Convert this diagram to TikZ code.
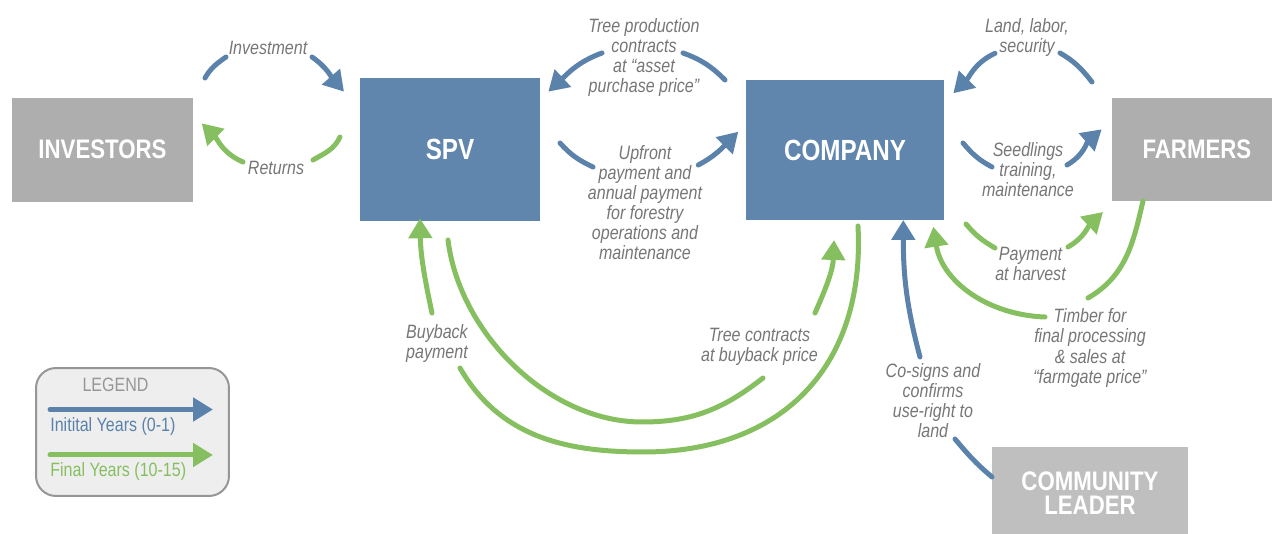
\documentclass[tikz,border=0pt]{standalone}
\usepackage{fontspec}
\setmainfont{Liberation Sans}[FakeStretch=0.83]
\usetikzlibrary{arrows.meta,positioning}

\definecolor{boxblue}{RGB}{96,134,174}
\definecolor{flowblue}{RGB}{91,130,170}
\definecolor{flowgreen}{RGB}{134,191,95}
\definecolor{boxgray}{RGB}{174,174,174}
\definecolor{boxlightgray}{RGB}{191,191,191}
\definecolor{labelgray}{RGB}{118,118,118}
\definecolor{legendfill}{RGB}{238,238,238}
\definecolor{legendline}{RGB}{150,150,150}

\newcommand{\bluefont}{\fontsize{16.6pt}{18pt}\selectfont\bfseries}
\newcommand{\grayfont}{\fontsize{15.25pt}{13.6pt}\selectfont\bfseries}
\newcommand{\lblfont}{\fontsize{11pt}{11.4pt}\selectfont\itshape}
\newcommand{\legfont}{\fontsize{11pt}{11.4pt}\selectfont}

\tikzset{
  bluebox/.style={rectangle,fill=boxblue,text=white,font=\bluefont,inner sep=0pt},
  graybox/.style={rectangle,fill=boxgray,text=white,font=\grayfont,align=center,inner sep=0pt},
  flowlabel/.style={font=\lblfont,text=labelgray,align=center,inner sep=0pt},
  flowline/.style={line width=0.1cm,line cap=round},
  blueflow/.style={flowline,draw=flowblue},
  greenflow/.style={flowline,draw=flowgreen},
  withhead/.style={-{Triangle[length=0.4cm,width=0.46cm]}},
}

\begin{document}
\begin{tikzpicture}[x=0.02cm,y=0.02cm]
  \useasboundingbox (0,0) rectangle (1272,534);

  % parties
  \node[graybox,minimum width=3.632cm,minimum height=2.08cm] (investors) at (102.5,384.3) {INVESTORS};
  \node[bluebox,minimum width=3.6cm,minimum height=2.848cm] (spv) at (450,384.5) {SPV};
  \node[bluebox,minimum width=3.972cm,minimum height=2.8cm] (company) at (845,384) {COMPANY};
  \node[graybox,minimum width=3.406cm,minimum height=2.066cm] (farmers) at (1196.9,384.65) {FARMERS};
  \node[graybox,fill=boxlightgray,minimum width=3.932cm,minimum height=1.852cm] (leader) at (1090,41) {COMMUNITY\\LEADER};

  % flow labels
  \node[flowlabel] (lblinvest) at (268,486) {Investment};
  \node[flowlabel] (lblreturn) at (276,366) {Returns};
  \node[flowlabel] (lbltree) at (644,476.5) {Tree production\\contracts\\at “asset\\purchase price”};
  \node[flowlabel] (lblupfront) at (645,331) {Upfront\\payment and\\annual payment\\for forestry\\operations and\\maintenance};
  \node[flowlabel] (lblland) at (1027,496.5) {Land, labor,\\security};
  \node[flowlabel] (lblseed) at (1028,364) {Seedlings\\training,\\maintenance};
  \node[flowlabel] (lblpay) at (1030.5,270) {Payment\\at harvest};
  \node[flowlabel] (lbltimber) at (1090,186) {Timber for\\final processing\\\& sales at\\“farmgate price”};
  \node[flowlabel] (lblcosign) at (933,133.5) {Co-signs and\\confirms\\use-right to\\land};
  \node[flowlabel] (lblbuyback) at (437,190.7) {Buyback\\payment};
  \node[flowlabel] (lbltreecon) at (759.5,187.3) {Tree contracts\\at buyback price};

  % investors and spv
  \coordinate (inv1) at (205,456); \coordinate (inv2) at (226,477);
  \coordinate (inv3) at (312,477); \coordinate (inv4) at (344,442.3);
  \coordinate (ret1) at (340,397); \coordinate (ret2) at (313,374);
  \coordinate (ret3) at (243,372); \coordinate (ret4) at (201.7,410.7);
  \draw[blueflow] (inv1) to[out=60,in=215] (inv2);
  \draw[blueflow,withhead] (inv3) to[out=-35,in=131] (inv4);
  \draw[greenflow] (ret1) to[out=-115,in=30] (ret2);
  \draw[greenflow,withhead] (ret3) to[out=157,in=-45] (ret4);

  % spv and company
  \coordinate (tp1) at (725,454); \coordinate (tp2) at (683,481);
  \coordinate (tp3) at (602,481); \coordinate (tp4) at (548.3,442.3);
  \coordinate (up1) at (560,391); \coordinate (up2) at (593,367);
  \coordinate (up3) at (698.3,369); \coordinate (up4) at (738.3,402.3);
  \draw[blueflow] (tp1) to[out=135,in=-20] (tp2);
  \draw[blueflow,withhead] (tp3) to[out=200,in=43] (tp4);
  \draw[blueflow] (up1) to[out=-48,in=155] (up2);
  \draw[blueflow,withhead] (up3) to[out=28,in=225] (up4);

  % company and farmers
  \coordinate (land1) at (1092,452); \coordinate (land2) at (1060,481);
  \coordinate (land3) at (995,480.7); \coordinate (land4) at (953.3,440.7);
  \coordinate (sd1) at (963,391); \coordinate (sd2) at (992,367);
  \coordinate (sd3) at (1067,369); \coordinate (sd4) at (1101.7,404.7);
  \coordinate (pay1) at (966,310); \coordinate (pay2) at (995,286);
  \coordinate (pay3) at (1068,287); \coordinate (pay4) at (1103,322);
  \coordinate (tim1) at (1143,333); \coordinate (tim2) at (1088,236);
  \coordinate (tim3) at (1045,217); \coordinate (tim4) at (933.3,307.3);
  \draw[blueflow] (land1) to[out=128,in=-30] (land2);
  \draw[blueflow,withhead] (land3) to[out=205,in=45] (land4);
  \draw[blueflow] (sd1) to[out=-50,in=152] (sd2);
  \draw[blueflow,withhead] (sd3) to[out=30,in=221] (sd4);
  \draw[greenflow] (pay1) to[out=-50,in=150] (pay2);
  \draw[greenflow,withhead] (pay3) to[out=30,in=223] (pay4);
  \draw[greenflow] (tim1) to[out=-103,in=30] (tim2);
  \draw[greenflow,withhead] (tim3) to[out=178,in=-81] (tim4);

  % community leader
  \coordinate (cs1) at (992,57); \coordinate (cs2) at (955,95);
  \coordinate (cs3) at (920,177); \coordinate (cs4) at (903.3,314);
  \draw[blueflow] (cs1) to[out=140,in=-50] (cs2);
  \draw[blueflow,withhead] (cs3) to[out=105,in=-90] (cs4);

  % buyback loops
  \coordinate (ob1) at (858,308); \coordinate (ob2) at (643,82);
  \coordinate (ob3) at (460,166); \coordinate (ob4) at (432,221);
  \coordinate (ob5) at (420,315.7);
  \coordinate (ib1) at (448,294); \coordinate (ib2) at (642,112);
  \coordinate (ib3) at (763,156); \coordinate (ib4) at (815,221);
  \coordinate (ib5) at (834,294);
  \draw[greenflow] (ob1) to[out=-87,in=0,looseness=1.15] (ob2) to[out=180,in=-60] (ob3);
  \draw[greenflow,withhead] (ob4) to[out=102,in=-89] (ob5);
  \draw[greenflow] (ib1) to[out=-83,in=180,looseness=0.9] (ib2) to[out=0,in=218] (ib3);
  \draw[greenflow,withhead] (ib4) to[out=66,in=-92] (ib5);

  % legend
  \node[rectangle,rounded corners=0.4cm,draw=legendline,line width=0.04cm,fill=legendfill,
        minimum width=3.86cm,minimum height=2.56cm] (legend) at (132.5,102) {};
  \node[font=\legfont,text=legendline,inner sep=0pt] (legtitle) at (115.5,149.3) {LEGEND};
  \coordinate (lg1) at (50,124.5); \coordinate (lg2) at (213,124.5);
  \coordinate (lg3) at (50,79); \coordinate (lg4) at (213,79);
  \draw[blueflow,withhead] (lg1) -- (lg2);
  \draw[greenflow,withhead] (lg3) -- (lg4);
  \node[font=\legfont,text=flowblue,inner sep=0pt,anchor=west] (legblue) at (50,107) {Initital Years (0-1)};
  \node[font=\legfont,text=flowgreen,inner sep=0pt,anchor=west] (leggreen) at (50,62) {Final Years (10-15)};
\end{tikzpicture}
\end{document}
